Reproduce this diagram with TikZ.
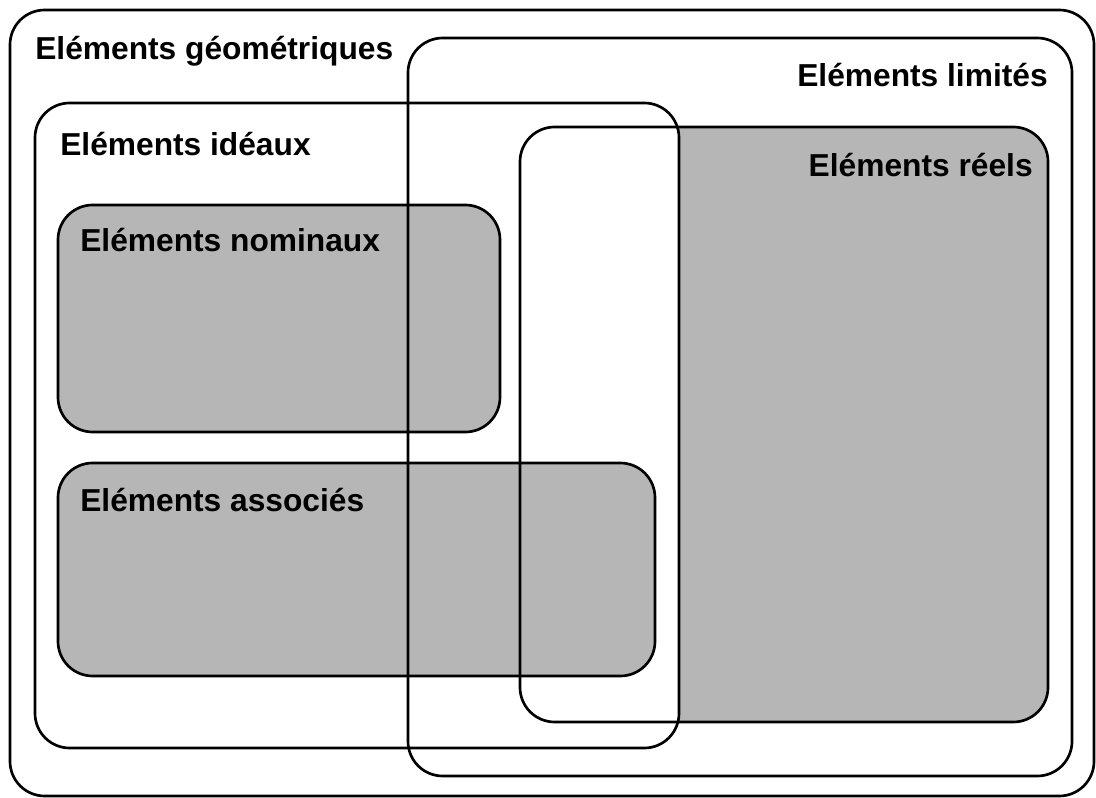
\documentclass[tikz,border=0pt]{standalone}
\usepackage{fontspec}
\setmainfont{Liberation Sans}
\usepackage{tikz}
\definecolor{shade}{RGB}{182,182,182}
\tikzset{
	zone/.style     = {rectangle, rounded corners = 26pt, inner sep = 0pt,
		outer sep = 0pt},
	rim/.style      = {draw, line width = 2pt, rounded corners = 26pt},
	title/.style    = {inner sep = 0pt, font = \fontsize{23.8}{28}\selectfont\bfseries}
}

\begin{document}
\begin{tikzpicture}[x=0.75pt, y=-0.75pt]
	\useasboundingbox (0,0) rectangle (1096,798);
	% fills first
	\path
	node at (552,403)[zone, fill=white, minimum width=813pt, minimum height=589.5pt] (geo) {}
	node at (740,407)[zone, minimum width=498pt, minimum height=553.5pt] (lim) {}
	node at (784,424.5)[zone, fill=shade, minimum width=396pt, minimum height=446.25pt] (reel) {}
	node at (357,425.5)[zone, fill=white, minimum width=483pt, minimum height=483.75pt] (ideal) {}
	node at (279,318.5)[zone, fill=shade, minimum width=331.5pt, minimum height=170.25pt] (nomi) {}
	node at (356.5,569.5)[zone, fill=shade, minimum width=447.75pt, minimum height=159.75pt] (asso) {};
	
	% then the outlines on top
	\draw[rim] (geo.north west) rectangle (geo.south east);
	\draw[rim] (lim.north west) rectangle (lim.south east);
	\draw[rim] (reel.north west) rectangle (reel.south east);
	\draw[rim] (ideal.north west) rectangle (ideal.south east);
	\draw[rim] (nomi.north west) rectangle (nomi.south east);
	\draw[rim] (asso.north west) rectangle (asso.south east);
	
	\node at (35,60)[title, anchor=base west] (tgeo) {Eléments géométriques};
	\node at (1048,87)[title, anchor=base east] (tlim) {Eléments limités};
	\node at (60,156)[title, anchor=base west] (tideal) {Eléments idéaux};
	\node at (1033,177)[title, anchor=base east] (treel) {Eléments réels};
	\node at (80,252)[title, anchor=base west] (tnomi) {Eléments nominaux};
	\node at (80,511)[title, anchor=base west] (tasso) {Eléments associés};
\end{tikzpicture}
\end{document}
